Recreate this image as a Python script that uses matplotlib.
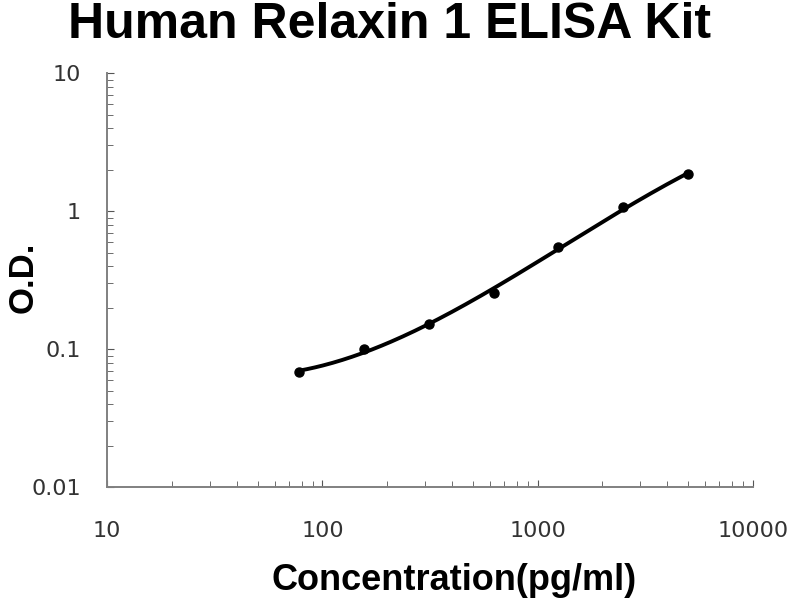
import matplotlib
matplotlib.use("Agg")
import matplotlib.pyplot as plt
from matplotlib.ticker import LogLocator, FixedLocator, FixedFormatter
import numpy as np

plt.rcParams["font.family"] = ["Liberation Sans", "DejaVu Sans"]

# standard curve points
conc = [78.125, 156.25, 312.5, 625, 1250, 2500, 5000]
od = [0.068, 0.101, 0.152, 0.255, 0.548, 1.07, 1.85]

x_ticks = [10, 100, 1000, 10000]
x_labels = ["10", "100", "1000", "10000"]
y_ticks = [0.01, 0.1, 1, 10]
y_labels = ["0.01", "0.1", "1", "10"]

fig = plt.figure(figsize=(8, 6), dpi=100)
ax = fig.add_axes([0.134, 0.188, 0.807, 0.69])

# smooth trend through the points, fitted in log-log space
lx = np.log10(conc)
ly = np.log10(od)
coef = np.polyfit(lx, ly, 3)
xs = np.linspace(lx.min(), lx.max(), 200)
ax.plot(10 ** xs, 10 ** np.polyval(coef, xs), color="black", lw=2.8,
        solid_capstyle="round")
ax.plot(conc, od, "o", color="black", ms=6.5)

ax.set_xscale("log")
ax.set_yscale("log")
ax.set_xlim(10, 10000)
ax.set_ylim(0.01, 10)

ax.xaxis.set_major_locator(FixedLocator(x_ticks))
ax.xaxis.set_major_formatter(FixedFormatter(x_labels))
ax.yaxis.set_major_locator(FixedLocator(y_ticks))
ax.yaxis.set_major_formatter(FixedFormatter(y_labels))
ax.xaxis.set_minor_locator(LogLocator(base=10, subs=np.arange(2, 10)))
ax.yaxis.set_minor_locator(LogLocator(base=10, subs=np.arange(2, 10)))
ax.xaxis.set_minor_formatter(FixedFormatter([]))
ax.yaxis.set_minor_formatter(FixedFormatter([]))

for side in ("top", "right"):
    ax.spines[side].set_visible(False)
for side in ("left", "bottom"):
    ax.spines[side].set_color("#808080")
    ax.spines[side].set_linewidth(1.4)

ax.tick_params(axis="both", which="both", direction="in", color="#555555")
ax.tick_params(axis="both", which="major", length=5, labelsize=16,
               labelcolor="#333333", labelfontfamily="DejaVu Sans")
ax.tick_params(axis="both", which="minor", length=4)
ax.tick_params(axis="x", which="major", pad=24)
ax.tick_params(axis="y", which="major", pad=19)

fig.text(0.5675, 0.033, "Concentration(pg/ml)", fontsize=26,
         fontweight="bold", ha="center", va="center")
fig.text(0.029, 0.538, "O.D.", fontsize=25, fontweight="bold",
         rotation=90, ha="center", va="center")
fig.text(0.487, 0.958, "Human Relaxin 1 ELISA Kit", fontsize=36,
         fontweight="bold", ha="center", va="center")

fig.savefig("out.png", dpi=100)
